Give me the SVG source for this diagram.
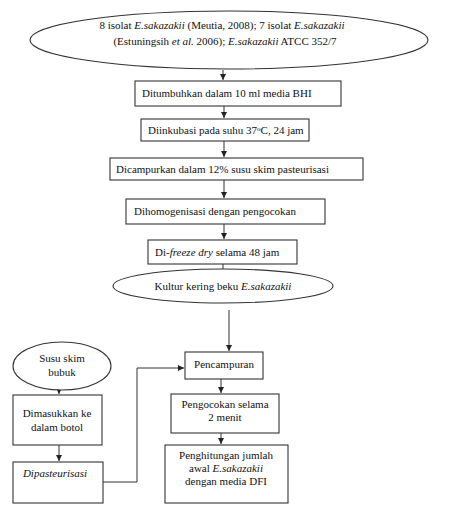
<svg xmlns="http://www.w3.org/2000/svg" width="451" height="531" viewBox="0 0 451 531">
<style>
.b{fill:#fff;stroke:#333;stroke-width:1.1}
.t{font-family:'Liberation Serif',serif;font-size:11px;fill:#111}
.c{text-anchor:middle}
.i{font-style:italic}
.l{fill:none;stroke:#333;stroke-width:1}
</style>
<defs>
<marker id="ah" markerWidth="8" markerHeight="8" refX="6" refY="3" orient="auto" markerUnits="userSpaceOnUse">
<path d="M0,0 L6,3 L0,6 Z" fill="#222"/>
</marker>
</defs>
<rect width="451" height="531" fill="#fff"/>
<g id="connectors">
<line class="l" x1="223" y1="70" x2="223" y2="80" marker-end="url(#ah)"/>
<line class="l" x1="224" y1="106" x2="224" y2="118" marker-end="url(#ah)"/>
<line class="l" x1="224" y1="141" x2="224" y2="157" marker-end="url(#ah)"/>
<line class="l" x1="224" y1="180" x2="224" y2="198" marker-end="url(#ah)"/>
<line class="l" x1="224" y1="224" x2="224" y2="239" marker-end="url(#ah)"/>
<line class="l" x1="223" y1="264" x2="223" y2="269"/>
<line class="l" x1="229" y1="310" x2="229" y2="351" marker-end="url(#ah)"/>
<line class="l" x1="221" y1="379" x2="221" y2="393" marker-end="url(#ah)"/>
<line class="l" x1="221" y1="433" x2="221" y2="444" marker-end="url(#ah)"/>
<line class="l" x1="59" y1="390" x2="59" y2="394" marker-end="url(#ah)"/>
<line class="l" x1="59" y1="445" x2="59" y2="461" marker-end="url(#ah)"/>
<polyline class="l" points="103,482 137,482 137,368 184,368" marker-end="url(#ah)"/>
</g>
<g id="n-sources">
<ellipse class="b" cx="229" cy="40" rx="199" ry="29"/>
<text class="t c" x="222" y="29">8 isolat <tspan class="i">E.sakazakii</tspan> (Meutia, 2008); 7 isolat <tspan class="i">E.sakazakii</tspan></text>
<text class="t c" x="225" y="45">(Estuningsih <tspan class="i">et al.</tspan> 2006); <tspan class="i">E.sakazakii</tspan> ATCC 352/7</text>
</g>
<g id="n-tumbuh">
<rect class="b" x="135" y="81" width="206" height="25"/>
<text class="t" x="142" y="97">Ditumbuhkan dalam 10 ml media BHI</text>
</g>
<g id="n-inkubasi">
<rect class="b" x="141" y="119" width="168" height="22"/>
<text class="t" x="148" y="134">Diinkubasi pada suhu 37<tspan font-size="7" dy="-3">o</tspan><tspan dy="3">C, 24 jam</tspan></text>
</g>
<g id="n-campur">
<rect class="b" x="110" y="158" width="253" height="22"/>
<text class="t" x="116" y="173">Dicampurkan dalam 12% susu skim pasteurisasi</text>
</g>
<g id="n-homogen">
<rect class="b" x="126" y="199" width="199" height="25"/>
<text class="t" x="134" y="215">Dihomogenisasi dengan pengocokan</text>
</g>
<g id="n-freeze">
<rect class="b" x="148" y="240" width="149" height="24"/>
<text class="t" x="155" y="256">Di-<tspan class="i">freeze dry</tspan> selama 48 jam</text>
</g>
<g id="n-kultur">
<ellipse class="b" cx="223" cy="286" rx="110" ry="17"/>
<text class="t c" x="223" y="290">Kultur kering beku <tspan class="i">E.sakazakii</tspan></text>
</g>
<g id="n-pencampuran">
<rect class="b" x="185" y="352" width="78" height="27"/>
<text class="t c" x="224" y="368">Pencampuran</text>
</g>
<g id="n-pengocokan">
<rect class="b" x="171" y="394" width="108" height="39"/>
<text class="t c" x="225" y="408">Pengocokan selama</text>
<text class="t c" x="225" y="421">2 menit</text>
</g>
<g id="n-penghitungan">
<rect class="b" x="165" y="445" width="123" height="58"/>
<text class="t c" x="226" y="459">Penghitungan jumlah</text>
<text class="t c" x="226" y="472">awal <tspan class="i">E.sakazakii</tspan></text>
<text class="t c" x="226" y="485">dengan media DFI</text>
</g>
<g id="n-susu">
<ellipse class="b" cx="62" cy="366" rx="49" ry="24"/>
<text class="t c" x="62" y="362">Susu skim</text>
<text class="t c" x="62" y="376">bubuk</text>
</g>
<g id="n-botol">
<rect class="b" x="13" y="395" width="89" height="50"/>
<text class="t c" x="57" y="417">Dimasukkan ke</text>
<text class="t c" x="57" y="431">dalam botol</text>
</g>
<g id="n-pasteur">
<rect class="b" x="13" y="462" width="90" height="41"/>
<text class="t c i" x="55" y="477">Dipasteurisasi</text>
</g>
</svg>
